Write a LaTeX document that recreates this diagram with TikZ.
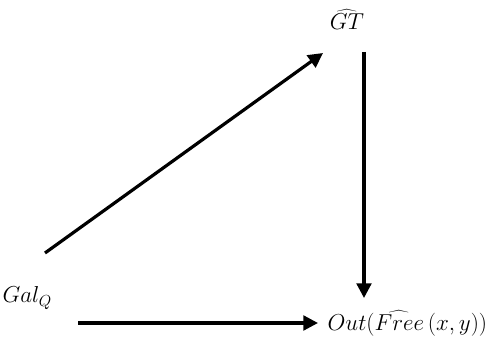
\documentclass[tikz,border=0pt]{standalone}
\usetikzlibrary{arrows.meta, positioning}
\tikzset{
  obj/.style={inner sep=1pt, font=\fontsize{18.5}{20}\selectfont},
  arrow/.style={line width=2.4pt, -{Triangle[length=11pt, width=11pt]}}
}
\begin{document}
\begin{tikzpicture}[x=0.75pt, y=-0.75pt]
  \useasboundingbox (0,0) rectangle (494,338);
  \node (gt) [obj] at (347,20) {$\widehat{GT}$};
  \node (gal) [obj, anchor=west] at (1,298) {$Gal_{Q}$};
  \node (out) [obj, anchor=west] at (326,323) {$Out(\widehat{Free}\,(x,y))$};
  \coordinate (diagA) at (45,253);
  \coordinate (diagB) at (323,53);
  \coordinate (horA) at (78,323);
  \coordinate (vertA) at (364,52);
  \coordinate (vertB) at (364,298);
  \draw [arrow] (diagA) -- (diagB);
  \draw [arrow] (vertA) -- (vertB);
  \draw [arrow, shorten >=6pt] (horA) -- (out.west);
\end{tikzpicture}
\end{document}
